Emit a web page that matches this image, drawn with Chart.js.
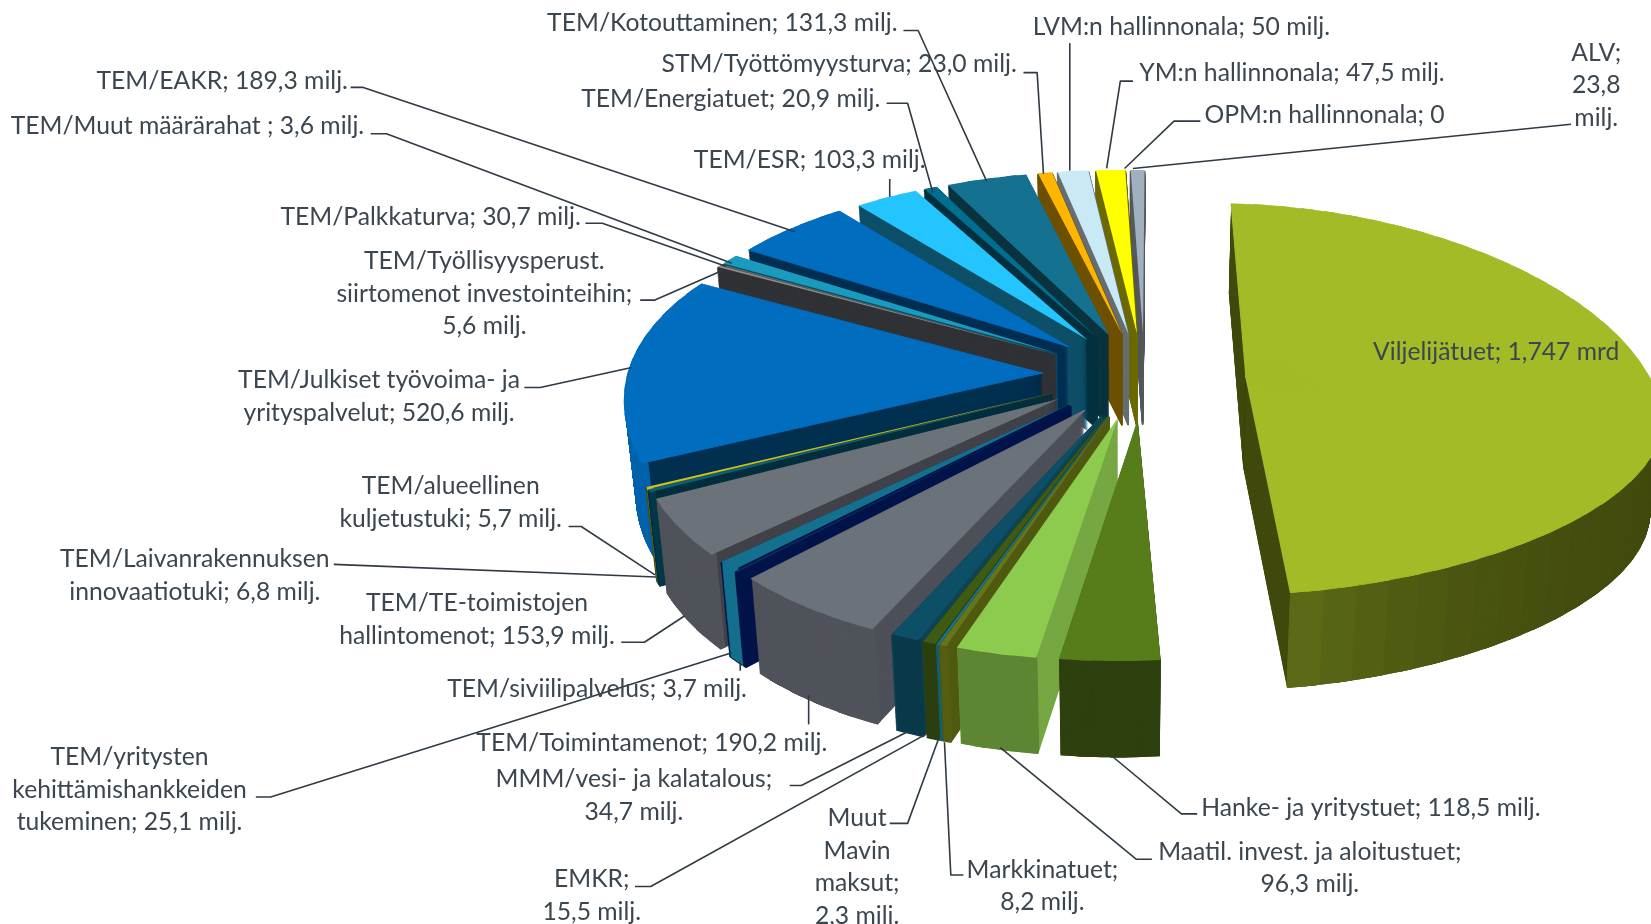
<!DOCTYPE html>
<html lang="fi"><head><meta charset="utf-8"><title>Määrärahat</title>
<script src="https://cdn.jsdelivr.net/npm/chart.js@4"></script>
<style>html,body{margin:0;padding:0;background:#fff;overflow:hidden}canvas{display:block}</style>
</head><body><canvas id="c" width="1651" height="924"></canvas>
<script>
// ---- data (millions of euro) ----
const categories = ["Viljelijätuet","Hanke- ja yritystuet","Maatil. invest. ja aloitustuet","Markkinatuet","Muut Mavin maksut","EMKR","MMM/vesi- ja kalatalous","TEM/Toimintamenot","TEM/siviilipalvelus","TEM/yritysten kehittämishankkeiden tukeminen","TEM/TE-toimistojen hallintomenot","TEM/Laivanrakennuksen innovaatiotuki","TEM/alueellinen kuljetustuki","TEM/Julkiset työvoima- ja yrityspalvelut","TEM/Työllisyysperust. siirtomenot investointeihin","TEM/Muut määrärahat","TEM/Palkkaturva","TEM/EAKR","TEM/ESR","TEM/Energiatuet","TEM/Kotouttaminen","STM/Työttömyysturva","LVM:n hallinnonala","YM:n hallinnonala","OPM:n hallinnonala","ALV"];
const values = [1747,118.5,96.3,8.2,2.3,15.5,34.7,190.2,3.7,25.1,153.9,6.8,5.7,520.6,5.6,3.6,30.7,189.3,103.3,20.9,131.3,23.0,50,47.5,0,23.8];
// ---- styles ----
const topColors = ["#A2BB27","#567D1A","#8DCB4E","#66741A","#16789A","#3F5A12","#0D4F66","#6B727A","#0A2C5A","#14708E","#6B727A","#0F5E78","#C2C42A","#006DBF","#8C8C8C","#6E6E6E","#1B9AC0","#006DBF","#24C4FF","#006E90","#147290","#FFB600","#C9EAF5","#FFFF00","#999999","#A0B0BE"];
const cutColors = ["#424A0E","#3A5212","#76A743","#4F5A10","#0F5F7A","#2E400F","#0B4357","#4D5058","#02144A","#02144A","#414249","#022E3D","#4A4C10","#023050","#303236","#303236","#0A4F66","#002F52","#0E4F68","#03303F","#09333F","#6E5000","#666E73","#6B6A00","#555555","#55585C"];
const rimColors = ["#424A0E","#2E400F","#5E8633","#565E12","#0F5F7A","#2C3F0E","#0A3A4A","#50535B","#02144A","#14708E","#50535B","#02384A","#B4B62A","#0062AC","#303236","#303236","#0A4F66","#002F52","#0E4F68","#03303F","#09333F","#6E5000","#666E73","#6B6A00","#555555","#55585C"];
const rimLight = {0:"#5E6D18"};
// ---- label layout, given in the 1568-wide picture's units ----
const S = 1651/1568;
const labelLayout = [
 [686,[21],["TEM/Kotouttaminen; 131,3 milj."]],
 [797,[60],["STM/Työttömyysturva; 23,0 milj."]],
 [694,[93],["TEM/Energiatuet; 20,9 milj."]],
 [1122,[25],["LVM:n hallinnonala; 50 milj."]],
 [1227,[68],["YM:n hallinnonala; 47,5 milj."]],
 [1258,[108],["OPM:n hallinnonala; 0"]],
 [1516,[49,80,111],["ALV;","23,8","milj."]],
 [211,[76],["TEM/EAKR; 189,3 milj."]],
 [178,[119],["TEM/Muut määrärahat ; 3,6 milj."]],
 [769,[151],["TEM/ESR; 103,3 milj."]],
 [409,[205],["TEM/Palkkaturva; 30,7 milj."]],
 [460,[247,278,309],["TEM/Työllisyysperust.","siirtomenot investointeihin;","5,6 milj."]],
 [360,[360,391],["TEM/Julkiset työvoima- ja","yrityspalvelut; 520,6 milj."]],
 [1421,[333],["Viljelijätuet; 1,747 mrd"]],
 [428,[461,492],["TEM/alueellinen","kuljetustuki; 5,7 milj."]],
 [185,[530,561],["TEM/Laivanrakennuksen","innovaatiotuki; 6,8 milj."]],
 [453,[572,603],["TEM/TE-toimistojen","hallintomenot; 153,9 milj."]],
 [567,[653],["TEM/siviilipalvelus; 3,7 milj."]],
 [123,[718,749,780],["TEM/yritysten","kehittämishankkeiden","tukeminen; 25,1 milj."]],
 [619,[705],["TEM/Toimintamenot; 190,2 milj."]],
 [602,[739,770],["MMM/vesi- ja kalatalous;","34,7 milj."]],
 [562,[834,865],["EMKR;","15,5 milj."]],
 [814,[776,807,838,869],["Muut","Mavin","maksut;","2,3 milj."]],
 [990,[825,856],["Markkinatuet;","8,2 milj."]],
 [1244,[808,839],["Maatil. invest. ja aloitustuet;","96,3 milj."]],
 [1302,[766],["Hanke- ja yritystuet; 118,5 milj."]]
];
const leaderLayout = [
 [858,29,872,29,937,172],[972,69,985,69,991,165],[842,98,862,98,886,183],[1016,41,1016,162],
 [1076,77,1064,77,1051,160],[1140,115,1115,115,1068,160],[1492,118,1076,160],
 [333,83,345,83,755,220],[352,127,367,127,695,250],[556,212,572,212,690,253],[845,170,845,187],
 [608,285,622,285,686,257],[498,368,513,368,600,349],[540,500,552,500,622,546],[317,536,623,548],
 [590,610,612,610,650,585],[703,628,703,637],[243,757,257,757,695,620],[768,660,768,688],
 [750,746,761,746,862,695],[603,842,618,842,880,697],[845,782,862,782,892,700],
 [915,831,903,831,897,705],[1094,816,1079,816,950,710],[1137,773,1122,773,1056,718]
];
// ---- perspective of the pie plane ----
const view = {cx:1144, cy:375, A:195.5, B:408, shear:15, shearRight:20, p:0.134, q:-0.01, rRight:0.14, rLeft:0.06, explodeX:0.25, explodeY:0.22, depth:92, vanishX:1125, shrink:0.022, grow:0.015};
const project = (u,v)=>{
  const w=1-view.p*v-view.q*u;
  const f = v>0 ? 1-(u>0?view.rRight:view.rLeft)*u : 1;
  const sh = view.shear+view.shearRight*Math.max(u,0);
  return [view.cx+(view.B*u+sh*v)/w, view.cy+view.A*v*f/w];
};
const hex = c=>[1,3,5].map(i=>parseInt(c.substr(i,2),16));
const mix = (a,b,t)=>{const x=hex(a),y=hex(b);return "rgb("+x.map((n,i)=>Math.round(n+(y[i]-n)*t)).join(",")+")";};
const STEP = Math.PI/45;

const pie3d = {
 id:"pie3d",
 beforeDatasetsDraw(chart){
  const ctx = chart.ctx, arcs = chart.getDatasetMeta(0).data;
  const paint = (arc,colour,inner,a0,a1,aEnd,t,mid,edge)=>{
    const R = arc.outerRadius;
    const ex = view.explodeX*Math.cos(mid), ey = view.explodeY*Math.sin(mid);
    const pA = project(ex,ey), p1 = project(ex+Math.cos(a0),ey+Math.sin(a0)), p2 = project(ex+Math.cos(a1),ey+Math.sin(a1));
    const e1x=R*Math.cos(a0), e1y=R*Math.sin(a0), e2x=R*Math.cos(a1), e2y=R*Math.sin(a1);
    const det = e1x*e2y-e2x*e1y;
    const d1x=p1[0]-pA[0], d1y=p1[1]-pA[1], d2x=p2[0]-pA[0], d2y=p2[1]-pA[1];
    const a=(d1x*e2y-d2x*e1y)/det, c=(d2x*e1x-d1x*e2x)/det, b=(d1y*e2y-d2y*e1y)/det, d=(d2y*e1x-d1y*e2x)/det;
    ctx.save();
    const sx = 1-view.shrink*t, sy = 1+view.grow*t;
    ctx.setTransform(sx,0,0,sy, view.vanishX*(view.shrink*t), t*view.depth-view.cy*view.grow*t);
    ctx.transform(a,b,c,d, pA[0]-a*arc.x-c*arc.y, pA[1]-b*arc.x-d*arc.y);
    const save = {s:arc.startAngle,e:arc.endAngle,c:arc.circumference,i:arc.innerRadius,o:arc.options};
    arc.startAngle=a0; arc.endAngle=aEnd; arc.circumference=aEnd-a0; arc.innerRadius=inner;
    arc.options={backgroundColor:colour,borderColor:colour,borderWidth:edge||0,offset:0,spacing:0,circular:true,borderAlign:"center",borderJoinStyle:"round",borderDash:[],borderDashOffset:0,borderRadius:0};
    arc.draw(ctx);
    arc.startAngle=save.s; arc.endAngle=save.e; arc.circumference=save.c; arc.innerRadius=save.i; arc.options=save.o;
    ctx.restore();
  };
  const order = arcs.map((a,i)=>i).filter(i=>arcs[i].circumference>0)
    .sort((i,j)=>Math.sin((arcs[i].startAngle+arcs[i].endAngle)/2)-Math.sin((arcs[j].startAngle+arcs[j].endAngle)/2));
  for(const i of order){
    const arc=arcs[i], start=arc.startAngle, circ=arc.endAngle-arc.startAngle, mid=start+circ/2;
    const n=Math.max(1,Math.ceil(circ/STEP)), da=circ/n;
    const edge = circ<0.12 ? 1.6 : 0;   // keeps thin wedges' walls solid near the tip
    for(let k=0;k<n;k++){
      const a0=start+k*da, a1=a0+da, aEnd=k<n-1?a1+da*0.5:a1;
      for(let t=view.depth;t>=1;t--) paint(arc,cutColors[i],0,a0,a1,aEnd,t/view.depth,mid,edge);
    }
    for(let k=0;k<n;k++){
      const a0=start+k*da, a1=a0+da, aEnd=k<n-1?a1+da*0.5:a1;
      const f=Math.pow((k+0.5)/n,8);
      const rim=rimLight[i]?mix(rimColors[i],rimLight[i],f):rimColors[i];
      for(let t=view.depth;t>=1;t--) paint(arc,rim,arc.outerRadius*0.985,a0,a1,aEnd,t/view.depth,mid);
    }
    for(let k=0;k<n;k++){
      const a0=start+k*da, a1=a0+da, aEnd=k<n-1?a1+da*0.5:a1;
      paint(arc,topColors[i],0,a0,a1,aEnd,0,mid,n>4?1:0);
    }
  }
  return false;
 },
 afterDraw(chart){
  const ctx=chart.ctx;
  ctx.save();
  ctx.strokeStyle="#2F3A44"; ctx.lineWidth=1.6; ctx.lineJoin="round";
  for(const l of leaderLayout){
    ctx.beginPath(); ctx.moveTo(l[0]*S,l[1]*S);
    for(let i=2;i<l.length;i+=2) ctx.lineTo(l[i]*S,l[i+1]*S);
    ctx.stroke();
  }
  ctx.fillStyle="#3B4650"; ctx.font='24.7px Lato'; ctx.textAlign="center"; ctx.textBaseline="middle";
  for(const [x,ys,lines] of labelLayout){
    lines.forEach((t,i)=>ctx.fillText(t,x*S,ys[i]*S+1));
  }
  ctx.restore();
 }
};

new Chart(document.getElementById("c"),{
 type:"pie",
 data:{labels:categories,datasets:[{data:values,backgroundColor:topColors,borderWidth:0,radius:300}]},
 options:{responsive:false,animation:false,rotation:2.5,layout:{padding:0},
  plugins:{legend:{display:false},tooltip:{enabled:false}}},
 plugins:[pie3d]
});
</script></body></html>
